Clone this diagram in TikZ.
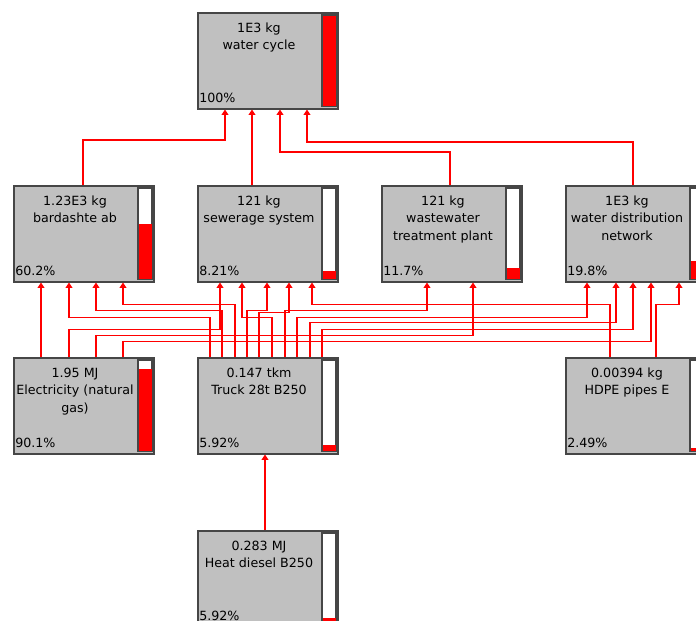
\documentclass[tikz,border=0pt]{standalone}
\usepackage{fontspec}
\setmainfont{DejaVu Sans}
\usetikzlibrary{arrows.meta}

\definecolor{boxgray}{RGB}{192,192,192}
\definecolor{edgegray}{RGB}{70,70,70}

\tikzset{
  procbox/.style={draw=edgegray, line width=1.2pt, fill=boxgray, anchor=north west,
    minimum width=105pt, minimum height=72pt, inner sep=0pt},
  proclabel/.style={anchor=north, align=center, inner sep=0pt,
    font=\fontsize{9.5}{13.2}\selectfont},
  procpct/.style={anchor=base west, inner sep=0pt, font=\fontsize{9.5}{12}\selectfont},
  bar/.style={draw=edgegray, line width=0.8pt, fill=white},
  flow/.style={red, line width=0.8pt, -{Triangle[width=5.2pt, length=4pt]}}
}

% box with label, share and bar
\newcommand\proc[6]{
  \node[procbox] (#1) at (#2,#3) {};
  \node[proclabel] (#1-lbl) at (#2+62,#3+10.5) {#4};
  \node[procpct] (#1-pct) at (#2+2,#3+90) {#5};
  \draw[bar] (#2+125,#3+3) rectangle (#2+139,#3+94);
  \fill[red] (#2+125.5,#3+93.5) rectangle (#2+138.5,#3+93.5-90*#6);
}

% flow from src at x=#2, via level #3, to dst at x=#5
\newcommand\flow[5]{
  \draw[flow] (#1.north -| #2,0) |- (#5,#3) -- (#4.south -| #5,0);
}

\begin{document}
\begin{tikzpicture}[x=0.75pt, y=-0.75pt]
  \useasboundingbox (0,0) rectangle (696,621);

  % Processes
  \proc{wc}{197}{12}{1E3 kg\\water cycle}{100\%}{1}
  \proc{bard}{13}{185}{1.23E3 kg\\bardashte ab}{60.2\%}{0.602}
  \proc{sew}{197}{185}{121 kg\\sewerage system}{8.21\%}{0.0821}
  \proc{wwt}{381}{185}{121 kg\\wastewater\\treatment plant}{11.7\%}{0.117}
  \proc{wdn}{565}{185}{1E3 kg\\water distribution\\network}{19.8\%}{0.198}
  \proc{elec}{13}{357}{1.95 MJ\\Electricity (natural\\gas)}{90.1\%}{0.901}
  \proc{trk}{197}{357}{0.147 tkm\\Truck 28t B250}{5.92\%}{0.0592}
  \proc{hdpe}{565}{357}{0.00394 kg\\HDPE pipes E}{2.49\%}{0.0249}
  \proc{heat}{197}{530}{0.283 MJ\\Heat diesel B250}{5.92\%}{0.0592}

  % Into water cycle
  \flow{bard}{83}{140}{wc}{225}
  \draw[flow] (sew.north -| 252,0) -- (wc.south -| 252,0);
  \flow{wwt}{450}{152}{wc}{280}
  \flow{wdn}{633}{142}{wc}{307}

  % Into bardashte ab
  \draw[flow] (elec.north -| 41,0) -- (bard.south -| 41,0);
  \flow{trk}{210}{317.3}{bard}{69}
  \flow{trk}{222}{310.7}{bard}{96}
  \flow{trk}{235}{304.7}{bard}{123}

  % Into sewerage system
  \flow{elec}{69}{329.7}{sew}{220}
  \flow{trk}{272}{317.3}{sew}{242}
  \flow{trk}{247}{310.7}{sew}{267}
  \flow{trk}{259}{312.5}{sew}{289}
  \flow{hdpe}{610}{304.7}{sew}{312}

  % Into wastewater treatment plant
  \flow{trk}{285}{310.7}{wwt}{427}
  \flow{elec}{96}{335.7}{wwt}{473}

  % Into water distribution network
  \flow{trk}{297}{317.3}{wdn}{587}
  \flow{trk}{310}{322.7}{wdn}{616}
  \flow{trk}{322}{329.7}{wdn}{633}
  \flow{elec}{123}{341.3}{wdn}{651}
  \flow{hdpe}{656}{304.3}{wdn}{679}

  % Into truck
  \draw[flow] (heat.north -| 265,0) -- (trk.south -| 265,0);

\end{tikzpicture}
\end{document}
